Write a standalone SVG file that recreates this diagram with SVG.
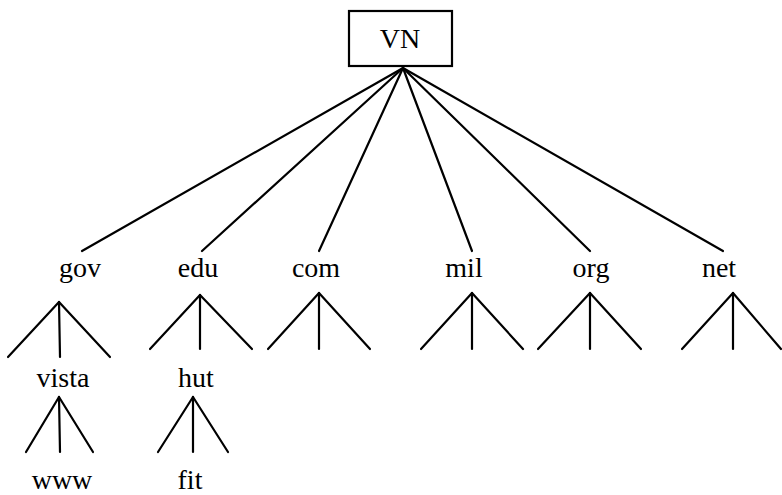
<svg xmlns="http://www.w3.org/2000/svg" width="782" height="495" viewBox="0 0 782 495">
<style>
line{stroke:#000;stroke-width:2.2;stroke-linecap:round}
.box{fill:#fff;stroke:#000;stroke-width:2.2}
text{font-family:"Liberation Serif","Times New Roman",serif;font-size:28px;fill:#000;text-anchor:middle}
</style>
<rect width="782" height="495" fill="#fff"/>
<g id="connectors">
<line x1="403" y1="68" x2="82" y2="251"/>
<line x1="403" y1="68" x2="202" y2="251"/>
<line x1="403" y1="68" x2="319" y2="251"/>
<line x1="403" y1="68" x2="472" y2="251"/>
<line x1="403" y1="68" x2="590" y2="251"/>
<line x1="403" y1="68" x2="723" y2="251"/>
<line x1="59" y1="302" x2="8" y2="357"/><line x1="59" y1="302" x2="60" y2="357"/><line x1="59" y1="302" x2="110" y2="357"/>
<line x1="200" y1="295" x2="150" y2="349"/><line x1="200" y1="295" x2="200" y2="349"/><line x1="200" y1="295" x2="252" y2="349"/>
<line x1="319" y1="293" x2="268" y2="349"/><line x1="319" y1="293" x2="319" y2="349"/><line x1="319" y1="293" x2="370" y2="349"/>
<line x1="472" y1="293" x2="421" y2="349"/><line x1="472" y1="293" x2="472" y2="349"/><line x1="472" y1="293" x2="523" y2="349"/>
<line x1="590" y1="293" x2="538" y2="349"/><line x1="590" y1="293" x2="590" y2="349"/><line x1="590" y1="293" x2="641" y2="349"/>
<line x1="733" y1="293" x2="682" y2="349"/><line x1="733" y1="293" x2="733" y2="349"/><line x1="733" y1="293" x2="781" y2="349"/>
<line x1="59" y1="397" x2="26" y2="452"/><line x1="59" y1="397" x2="60" y2="452"/><line x1="59" y1="397" x2="93" y2="452"/>
<line x1="193" y1="397" x2="158" y2="452"/><line x1="193" y1="397" x2="193" y2="452"/><line x1="193" y1="397" x2="228" y2="452"/>
</g>
<g id="VN"><rect class="box" x="349" y="11" width="103" height="55"/><text x="400" y="48">VN</text></g>
<g id="gov"><text x="80" y="277">gov</text></g>
<g id="edu"><text x="198" y="277">edu</text></g>
<g id="com"><text x="316" y="277">com</text></g>
<g id="mil"><text x="464" y="277">mil</text></g>
<g id="org"><text x="591" y="277">org</text></g>
<g id="net"><text x="719" y="277">net</text></g>
<g id="vista"><text x="63" y="387">vista</text></g>
<g id="hut"><text x="196" y="387">hut</text></g>
<g id="www"><text x="62" y="489">www</text></g>
<g id="fit"><text x="190" y="489">fit</text></g>
</svg>
